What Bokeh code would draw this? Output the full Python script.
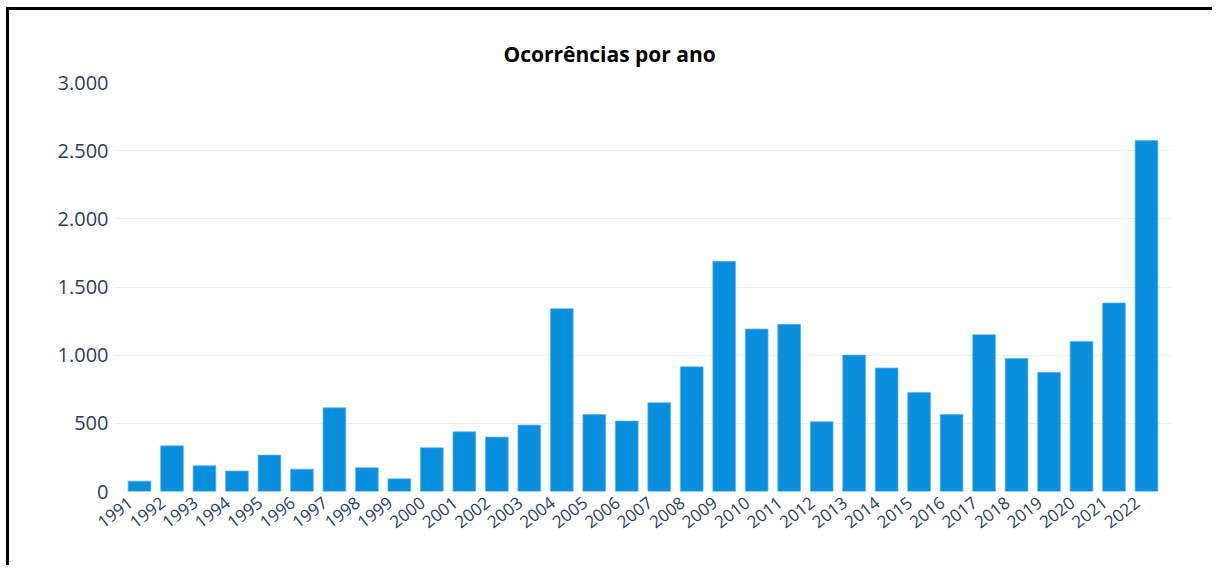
from bokeh.plotting import figure
from bokeh.models import ColumnDataSource, FixedTicker, CustomJSTickFormatter, Range1d, Title
from bokeh.embed import file_html
from bokeh.resources import INLINE

years = list(range(1991, 2023))
counts = [76, 335, 189, 150, 267, 164, 614, 174, 93, 321,
          438, 399, 487, 1341, 565, 517, 651, 915, 1688, 1192,
          1226, 512, 1001, 906, 727, 565, 1150, 976, 874, 1101,
          1383, 2574]
y_ticks = [0, 500, 1000, 1500, 2000, 2500, 3000]
title_text = "Ocorrências por ano"

BAR = "#088fdd"
LABEL = "#2a3f5f"
FONT = "Open Sans"

W, H = 1206, 558
# frame edges in figure coordinates (figure content starts at page x=9, y=10)
left, right_edge, top, bottom = 105, 1162, 72, 481

pad = 0.27
label_shift = 0.28  # rotated labels end a little left of the bar centre
p = figure(width=W, height=H, output_backend="svg", toolbar_location=None,
           x_range=Range1d(years[0] - 0.5 - pad, years[-1] + 0.5 + pad),
           y_range=Range1d(0, 3000),
           min_border_left=left, min_border_right=W - right_edge,
           min_border_top=top, min_border_bottom=H - bottom)
p.margin = (7, 0, 0, 6)
p.styles = {"border-left": "3px solid black", "border-top": "3px solid black"}
p.outline_line_color = None

src = ColumnDataSource(dict(x=years, top=counts))
p.vbar(x="x", top="top", width=0.7, bottom=0, source=src,
       fill_color=BAR, line_color="#5fb3e6", line_width=0.7)

t = Title(text=title_text, align="left", offset=389, standoff=30,
          text_font=FONT, text_font_size="21px", text_font_style="bold",
          text_color="black")
p.add_layout(t, "above")

p.xaxis.ticker = FixedTicker(ticks=[y - label_shift for y in years])
p.xaxis.formatter = CustomJSTickFormatter(
    args=dict(s=label_shift), code="return (tick + s).toFixed(0);")
p.xaxis.major_label_orientation = 0.66
p.xaxis.axis_line_color = None
p.xaxis.major_tick_line_color = None
p.xaxis.minor_tick_line_color = None
p.xaxis.major_tick_out = 0
p.xaxis.major_label_standoff = 9
p.xaxis.major_label_text_font = FONT
p.xaxis.major_label_text_font_size = "17px"
p.xaxis.major_label_text_color = LABEL

p.yaxis.ticker = FixedTicker(ticks=y_ticks)
p.yaxis.formatter = CustomJSTickFormatter(
    code="return tick.toFixed(0).replace(/\\B(?=(\\d{3})+(?!\\d))/g, '.');")
p.yaxis.axis_line_color = None
p.yaxis.major_tick_line_color = None
p.yaxis.minor_tick_line_color = None
p.yaxis.major_tick_out = 0
p.yaxis.major_label_standoff = 6
p.yaxis.major_label_text_font = FONT
p.yaxis.major_label_text_font_size = "20px"
p.yaxis.major_label_text_color = LABEL

p.xgrid.grid_line_color = None
p.ygrid.grid_line_color = "#eeeeee"
p.ygrid.grid_line_width = 1

open("out.html", "w").write(file_html(p, INLINE))
